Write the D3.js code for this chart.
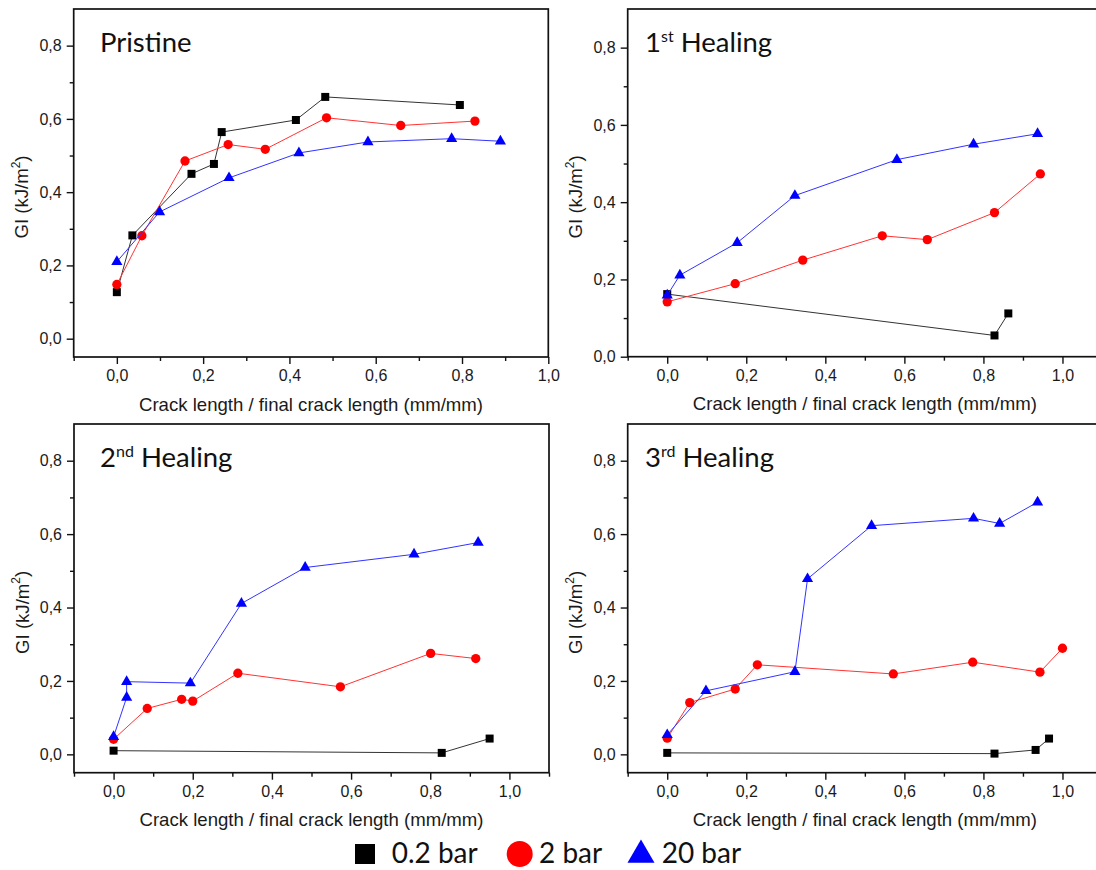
<!DOCTYPE html>
<html>
<head>
<meta charset="utf-8">
<script src="https://cdn.jsdelivr.net/npm/d3@7"></script>
<style>
  body { margin: 0; background: #fff; }
  svg text { font-family: "Liberation Sans", Arial, sans-serif; }
  .ttl, .leg { font-family: Lato, "Open Sans", sans-serif; }
</style>
</head>
<body>
<svg id="chart" width="1096" height="870"></svg>
<script>
// ---- data ----
const seriesNames = ["0.2 bar", "2 bar", "20 bar"];
const titleMain = ["Pristine", "1", "2", "3"];
const titleSup = ["", "st", "nd", "rd"];
const titleRest = ["", " Healing", " Healing", " Healing"];
const yTicks = [0, 0.2, 0.4, 0.6, 0.8];
const xTicks = [0, 0.2, 0.4, 0.6, 0.8, 1.0];

// [crack length ratio, GI]
const pristine02 = [[0,0.127],[0.036,0.282],[0.173,0.450],[0.225,0.477],[0.243,0.564],[0.415,0.597],[0.483,0.660],[0.795,0.638]];
const pristine2  = [[0,0.148],[0.058,0.281],[0.158,0.485],[0.258,0.530],[0.344,0.517],[0.486,0.603],[0.658,0.582],[0.830,0.594]];
const pristine20 = [[0,0.210],[0.099,0.346],[0.260,0.439],[0.422,0.507],[0.582,0.537],[0.776,0.546],[0.889,0.539]];

const heal1_02 = [[0,0.162],[0.828,0.055],[0.863,0.112]];
const heal1_2  = [[0,0.142],[0.172,0.189],[0.343,0.250],[0.544,0.313],[0.658,0.303],[0.828,0.373],[0.944,0.473]];
const heal1_20 = [[0,0.159],[0.032,0.211],[0.177,0.295],[0.323,0.417],[0.581,0.510],[0.775,0.550],[0.937,0.577]];

const heal2_02 = [[0,0.010],[0.829,0.004],[0.950,0.043]];
const heal2_2  = [[0,0.041],[0.085,0.125],[0.172,0.150],[0.200,0.145],[0.314,0.221],[0.573,0.184],[0.801,0.275],[0.915,0.261]];
const heal2_20 = [[0,0.048],[0.033,0.155],[0.033,0.198],[0.194,0.194],[0.323,0.411],[0.484,0.509],[0.759,0.545],[0.921,0.577]];

const heal3_02 = [[0,0.004],[0.828,0.002],[0.932,0.012],[0.966,0.043]];
const heal3_2  = [[0,0.044],[0.057,0.141],[0.172,0.178],[0.228,0.244],[0.572,0.219],[0.773,0.251],[0.943,0.224],[1.0,0.289]];
const heal3_20 = [[0,0.053],[0.098,0.173],[0.323,0.225],[0.355,0.478],[0.517,0.623],[0.775,0.643],[0.841,0.629],[0.937,0.687]];

const panelData = [
  [pristine02, pristine2, pristine20],
  [heal1_02, heal1_2, heal1_20],
  [heal2_02, heal2_2, heal2_20],
  [heal3_02, heal3_2, heal3_20]
];

// ---- layout ----
const panels = [
  {x: [73.7, 548.3], xd: [-0.1, 1.0], y: [357, 9],     yd: [-0.05, 0.9], tx: 100},
  {x: [627.7, 1102], xd: [-0.1, 1.1], y: [356.7, 9],   yd: [0, 0.9],     tx: 645},
  {x: [74, 549],     xd: [-0.1, 1.1], y: [772.7, 424], yd: [-0.05, 0.9], tx: 100},
  {x: [627.7, 1102], xd: [-0.1, 1.1], y: [772.7, 424], yd: [-0.05, 0.9], tx: 645}
];
const markerColors = ["#000", "#f00", "#00f"];
const lineColors = ["#333", "#f33", "#33f"];
const symbols = [d3.symbolSquare, d3.symbolCircle, d3.symbolTriangle];
const markerSize = [64, 68, 54];

const svg = d3.select("#chart");
const fmt = v => d3.format(".1f")(v).replace(".", ",");

panels.forEach((p, pi) => {
  const x = d3.scaleLinear().domain(p.xd).range(p.x);
  const y = d3.scaleLinear().domain(p.yd).range(p.y);
  const g = svg.append("g");

  const minorX = d3.range(-1, 12).map(i => i / 10).filter(v => v >= p.xd[0] - 1e-9 && v <= p.xd[1] + 1e-9 && Math.round(v * 10) % 2 !== 0);
  const minorY = d3.range(0, 10).map(i => i / 10).filter(v => v > p.yd[0] && v < p.yd[1] - 1e-9 && Math.round(v * 10) % 2 !== 0);

  // x axis
  g.append("g").attr("transform", `translate(0,${p.y[0]})`)
    .call(d3.axisBottom(x).tickValues(xTicks).tickSize(7).tickPadding(6).tickFormat(fmt));
  g.append("g").attr("transform", `translate(0,${p.y[0]})`)
    .call(d3.axisBottom(x).tickValues(minorX).tickSize(4).tickFormat(""));
  // y axis
  g.append("g").attr("transform", `translate(${p.x[0]},0)`)
    .call(d3.axisLeft(y).tickValues(yTicks).tickSize(7).tickPadding(5).tickFormat(fmt));
  g.append("g").attr("transform", `translate(${p.x[0]},0)`)
    .call(d3.axisLeft(y).tickValues(minorY).tickSize(4).tickFormat(""));

  g.selectAll(".domain").remove();
  g.selectAll(".tick line").attr("stroke", "#111").attr("stroke-width", 1.4);
  g.selectAll(".tick text").attr("font-size", 16).attr("fill", "#1a1a1a");

  // frame
  g.append("rect")
    .attr("x", p.x[0]).attr("y", p.y[1])
    .attr("width", p.x[1] - p.x[0]).attr("height", p.y[0] - p.y[1])
    .attr("fill", "none").attr("stroke", "#111").attr("stroke-width", 1.7);

  // axis titles
  const cx = (p.x[0] + p.x[1]) / 2;
  const cy = (p.y[0] + p.y[1]) / 2 + 14;
  g.append("text")
    .attr("x", cx).attr("y", p.y[0] + 47).attr("dy", "0.35em")
    .attr("text-anchor", "middle").attr("font-size", 18.6).attr("fill", "#1a1a1a")
    .text("Crack length / final crack length (mm/mm)");
  const yt = g.append("text")
    .attr("transform", `translate(${p.x[0] - 52},${cy}) rotate(-90)`)
    .attr("dy", "0.35em")
    .attr("text-anchor", "middle").attr("font-size", 18.6).attr("fill", "#1a1a1a");
  yt.append("tspan").text("GI (kJ/m");
  yt.append("tspan").attr("font-size", 12).attr("dy", "-0.7em").text("2");
  yt.append("tspan").attr("dy", "0.45em").text(")");

  // panel title
  const t = g.append("text").attr("class", "ttl")
    .attr("x", p.tx).attr("y", p.y[1] + 43)
    .attr("font-size", 27.5).attr("fill", "#111");
  t.append("tspan").text(titleMain[pi]);
  if (titleSup[pi]) {
    t.append("tspan").attr("font-size", 16).attr("dy", "-10").text(titleSup[pi]);
    t.append("tspan").attr("dy", "10").text(titleRest[pi]);
  }

  // series
  const line = d3.line().x(d => x(d[0])).y(d => y(d[1]));
  panelData[pi].forEach((ser, si) => {
    g.append("path").datum(ser)
      .attr("d", line).attr("fill", "none")
      .attr("stroke", lineColors[si]).attr("stroke-width", 1);
    g.selectAll(null).data(ser).enter().append("path")
      .attr("transform", d => `translate(${x(d[0])},${y(d[1])})`)
      .attr("d", d3.symbol().type(symbols[si]).size(markerSize[si]))
      .attr("fill", markerColors[si]);
  });
});

// legend
const legX = [365, 519.7, 641];
const legTextX = [391.7, 539, 661.7];
const legSize = [400, 531, 315];
const leg = svg.append("g");
seriesNames.forEach((name, i) => {
  leg.append("path")
    .attr("transform", `translate(${legX[i]},${i === 2 ? 855 : 854})`)
    .attr("d", d3.symbol().type(symbols[i]).size(legSize[i]))
    .attr("fill", markerColors[i]);
  leg.append("text").attr("class", "leg")
    .attr("x", legTextX[i]).attr("y", 863)
    .attr("font-size", 28).attr("fill", "#111")
    .text(name);
});
</script>
</body>
</html>
